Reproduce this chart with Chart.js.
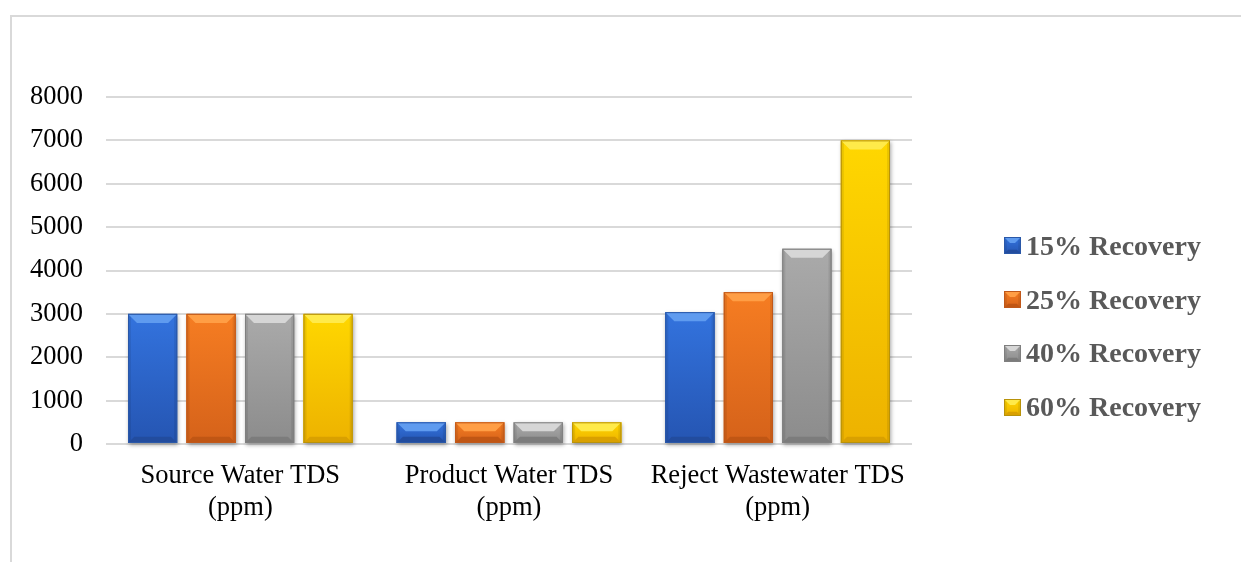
<!DOCTYPE html>
<html>
<head>
<meta charset="utf-8">
<script src="https://cdn.jsdelivr.net/npm/chart.js@4.4.1/dist/chart.umd.min.js"></script>
<style>
  html, body { margin: 0; padding: 0; background: #fff; overflow: hidden; }
  #frame { position: absolute; left: 10px; top: 15px; width: 1300px; height: 620px;
           border-top: 2px solid #d9d9d9; border-left: 2px solid #d9d9d9; }
  #wrap { position: absolute; left: 0; top: 0; width: 1241px; height: 562px; }
  #legend { position: absolute; left: 1004px; top: 0;
            font: bold 28px "Liberation Serif", "Times New Roman", serif; color: #595959; }
  .item { position: absolute; left: 0; height: 32px; display: flex; align-items: center; white-space: nowrap; }
  .item canvas { margin-right: 5px; }
</style>
</head>
<body>
<div id="frame"></div>
<div id="wrap"><canvas id="tdsChart" width="1241" height="562"></canvas></div>
<div id="legend"></div>
<script>
// data
const categories = [
    ['Source Water TDS', '(ppm)'],
    ['Product Water TDS', '(ppm)'],
    ['Reject Wastewater TDS', '(ppm)']
];
const seriesLabels = ['15% Recovery', '25% Recovery', '40% Recovery', '60% Recovery'];
const recovery15 = [3000, 500, 3040];
const recovery25 = [3000, 500, 3500];
const recovery40 = [3000, 500, 4500];
const recovery60 = [3000, 500, 7000];
const yMax = 8000;
const yStep = 1000;

// bevel colours per series
const palettes = [
    { light: '#5F9BEF', top: '#3373DE', bottom: '#2555B2', dark: '#224C9E', edge: '#2A58A8' },
    { light: '#FF9E45', top: '#F67D22', bottom: '#D5621A', dark: '#C05614', edge: '#C0581A' },
    { light: '#D6D6D6', top: '#AAAAAA', bottom: '#8C8C8C', dark: '#7C7C7C', edge: '#7F7F7F' },
    { light: '#FFEA4A', top: '#FFD700', bottom: '#EDB200', dark: '#D9A000', edge: '#B8920A' }
];

function poly(ctx, pts, color) {
    ctx.beginPath();
    ctx.moveTo(pts[0][0], pts[0][1]);
    for (let i = 1; i < pts.length; i++) ctx.lineTo(pts[i][0], pts[i][1]);
    ctx.closePath();
    ctx.fillStyle = color;
    ctx.fill();
}

function drawBevel(ctx, l, t, w, h, p, size, shadow) {
    if (w <= 0 || h <= 0) return;
    const r = l + w, b = t + h;
    const bt = Math.min(size, h / 2, w / 2);
    const bb = Math.min(size * 0.7, h / 3, w / 2);
    ctx.save();
    if (shadow) {
        ctx.save();
        ctx.shadowColor = 'rgba(0,0,0,0.35)';
        ctx.shadowBlur = 4;
        ctx.shadowOffsetX = 1;
        ctx.shadowOffsetY = 2;
        ctx.fillStyle = p.bottom;
        ctx.fillRect(l, t, w, h);
        ctx.restore();
    }
    const g = ctx.createLinearGradient(0, t, 0, b);
    g.addColorStop(0, p.top);
    g.addColorStop(1, p.bottom);
    ctx.fillStyle = g;
    ctx.fillRect(l, t, w, h);
    // darker side strips
    const s = Math.min(3, w / 6);
    ctx.fillStyle = 'rgba(0,0,0,0.08)';
    ctx.fillRect(l, t, s, h);
    ctx.fillRect(r - s, t, s, h);
    // top and bottom bevel
    poly(ctx, [[l, t], [r, t], [r - bt, t + bt], [l + bt, t + bt]], p.light);
    poly(ctx, [[l, b], [r, b], [r - bb, b - bb], [l + bb, b - bb]], p.dark);
    ctx.strokeStyle = p.edge;
    ctx.lineWidth = 1;
    ctx.strokeRect(l + 0.5, t + 0.5, w - 1, h - 1);
    ctx.restore();
}

const bevelPlugin = {
    id: 'bevel',
    afterDatasetsDraw(chart) {
        const ctx = chart.ctx;
        chart.data.datasets.forEach((ds, i) => {
            const meta = chart.getDatasetMeta(i);
            meta.data.forEach(bar => {
                const { x, y, base, width } = bar.getProps(['x', 'y', 'base', 'width'], true);
                drawBevel(ctx, x - width / 2, y, width, base - y, palettes[i], 9, true);
            });
        });
    }
};

const seriesData = [recovery15, recovery25, recovery40, recovery60];
const fontFamily = '"Liberation Serif", "Times New Roman", serif';

const ctx = document.getElementById('tdsChart').getContext('2d');
const tdsChart = new Chart(ctx, {
    type: 'bar',
    data: {
        labels: categories,
        datasets: seriesLabels.map((label, i) => ({
            label: label,
            data: seriesData[i],
            backgroundColor: palettes[i].top,
            borderWidth: 0,
            barPercentage: 0.84,
            categoryPercentage: 0.871
        }))
    },
    options: {
        responsive: false,
        animation: false,
        layout: { padding: { left: 10, top: 97, right: 329, bottom: 18 } },
        plugins: {
            legend: { display: false },
            tooltip: { enabled: false }
        },
        scales: {
            x: {
                grid: { display: false, drawTicks: false },
                border: { display: false },
                ticks: { color: '#000', font: { family: fontFamily, size: 26.5 }, padding: 16, maxRotation: 0 },
                afterFit: s => { s.height = 100; }
            },
            y: {
                min: 0,
                max: yMax,
                ticks: {
                    stepSize: yStep,
                    color: '#000',
                    font: { family: fontFamily, size: 26.5 },
                    padding: 23,
                    callback: v => String(v)
                },
                grid: { color: '#d9d9d9', lineWidth: 2, drawTicks: false },
                border: { display: false },
                afterFit: s => { s.width = 96; }
            }
        }
    },
    plugins: [bevelPlugin]
});

// legend built from the series labels
const legendCenters = [245.5, 299.5, 353, 407];
const legend = document.getElementById('legend');
seriesLabels.forEach((label, i) => {
    const item = document.createElement('div');
    item.className = 'item';
    item.style.top = (legendCenters[i] - 16) + 'px';
    const sw = document.createElement('canvas');
    sw.width = 17;
    sw.height = 17;
    drawBevel(sw.getContext('2d'), 0, 0, 17, 17, palettes[i], 6, false);
    item.appendChild(sw);
    item.appendChild(document.createTextNode(label));
    legend.appendChild(item);
});
</script>
</body>
</html>
